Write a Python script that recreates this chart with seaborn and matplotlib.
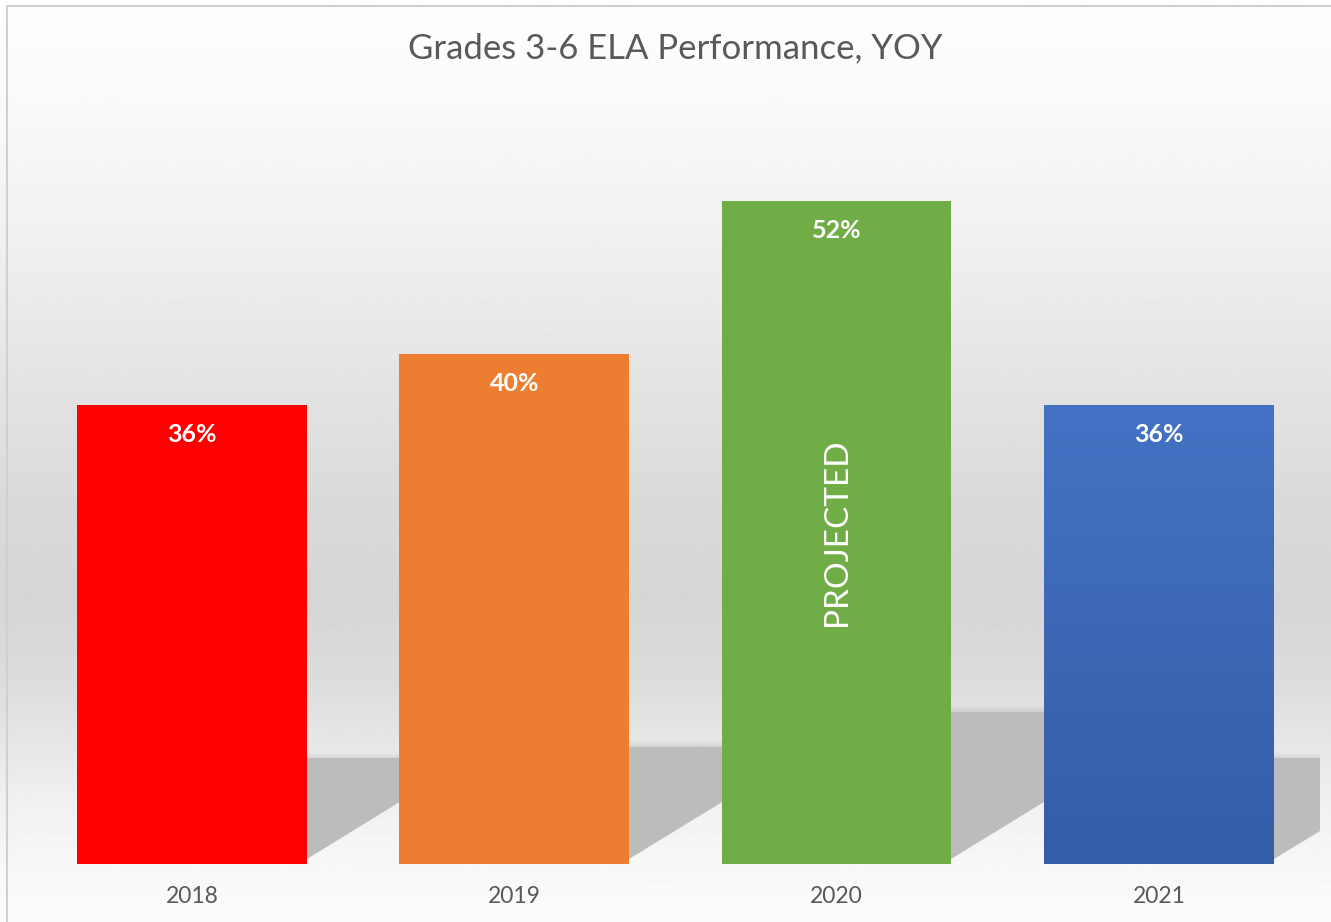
import numpy as np
import pandas as pd
import matplotlib
matplotlib.use("Agg")
import matplotlib.pyplot as plt
from matplotlib.patches import Polygon
from matplotlib.colors import LinearSegmentedColormap
import seaborn as sns

years = ["2018", "2019", "2020", "2021"]
scores = [36, 40, 52, 36]
score_labels = ["36%", "40%", "52%", "36%"]
bar_colors = ["#FF0000", "#ED7D31", "#70AD47", "#4472C4"]
note_year = "2020"
note_text = "PROJECTED"
title = "Grades 3-6 ELA Performance, YOY"

df = pd.DataFrame({"year": years, "score": scores})

sns.set_theme(style="white")
plt.rcParams["font.family"] = ["Lato", "DejaVu Sans"]

W, H = 1331, 922
fig = plt.figure(figsize=(W / 100, H / 100), dpi=100)

# grey gradient behind everything
bg = fig.add_axes([0, 0, 1, 1], zorder=0)
stops_y = [0, 100, 200, 300, 400, 500, 600, 680, 740, 800, 870, 922]
stops_v = [254, 250, 243, 235, 226, 218, 214, 220, 230, 240, 248, 252]
col = np.interp(np.arange(H), stops_y, stops_v) / 255.0
bg.imshow(np.repeat(col[:, None], 2, axis=1), cmap="gray", vmin=0, vmax=1,
          aspect="auto", extent=[0, 1, 0, 1], origin="upper")
bg.plot([7 / W, 7 / W], [0, 1 - 6 / H], color="#d0d0d0", lw=1.5)
bg.plot([7 / W, 1], [1 - 6 / H, 1 - 6 / H], color="#d0d0d0", lw=1.5)
bg.set_xlim(0, 1)
bg.set_ylim(0, 1)
bg.axis("off")

ax = fig.add_axes([30.75 / W, (H - 864) / H, (1320 - 30.75) / W, (864 - 99) / H], zorder=1)
ax.patch.set_alpha(0)

sns.barplot(data=df, x="year", y="score", hue="year", palette=bar_colors,
            width=0.713, saturation=1, legend=False, ax=ax, zorder=3,
            linewidth=0, edgecolor="none")
ax.set_xlim(-0.5, 3.5)
ax.set_ylim(0, 60)

bars = sorted(ax.patches, key=lambda p: p.get_x())


def shadow_pts(r, top, x_end, slope, base):
    x_hit = r + (top - base) / slope
    if x_hit < x_end:
        return [(r, base), (r, top), (x_end, top), (x_hit, top)]
    return [(r, base), (r, top), (x_end, top), (x_end, base + slope * (x_end - r))]


# cast shadows to the right of each bar (soft edges from stacked layers)
slope = 15.5
for p in bars:
    r = p.get_x() + p.get_width()
    top = 0.23 * p.get_height()
    x_end = min(r + 0.6, 3.5)
    for g, a in [(0.45, 0.12), (0.3, 0.15), (0.15, 0.2), (0.0, 1.0)]:
        pts = shadow_pts(r, top + g, x_end, slope, 0.4 + g)
        ax.add_patch(Polygon(pts, closed=True, facecolor="#bcbcbc",
                             edgecolor="none", alpha=a, zorder=2))

# vertical gradient on the last bar
last = bars[-1]
grad = np.linspace(0, 1, 256)[:, None]
cmap = LinearSegmentedColormap.from_list("bl", ["#345DA8", "#4472C4"])
im = ax.imshow(grad, cmap=cmap, aspect="auto", origin="lower", zorder=3.5,
               extent=[last.get_x(), last.get_x() + last.get_width(), 0, last.get_height()])
im.set_clip_path(last)

for p, lab, yr in zip(bars, score_labels, years):
    cx = p.get_x() + p.get_width() / 2
    ax.text(cx, p.get_height() - 2.35, lab, ha="center", va="center",
            color="white", fontsize=18, fontweight="bold", zorder=5)
    if yr == note_year:
        ax.text(cx, p.get_height() / 2, note_text, ha="center", va="center",
                rotation=90, color="white", fontsize=24, zorder=5)

ax.set_xlabel("")
ax.set_ylabel("")
ax.set_yticks([])
ax.tick_params(axis="x", length=0, labelsize=16.5, labelcolor="#595959", pad=16)
sns.despine(ax=ax, left=True, bottom=True)

fig.text(675 / W, 1 - 48 / H, title, ha="center", va="center",
         fontsize=25, color="#595959")

fig.savefig("out.png", dpi=100)
